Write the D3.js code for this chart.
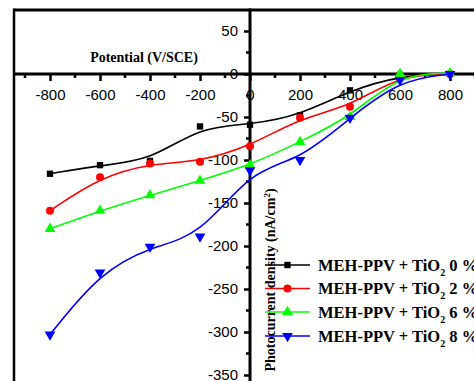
<!DOCTYPE html>
<html>
<head>
<meta charset="utf-8">
<script src="https://cdn.jsdelivr.net/npm/d3@7"></script>
<style>
  body { margin: 0; background: #fff; }
  svg { display: block; }
</style>
</head>
<body>
<svg id="chart"></svg>
<script>
const width = 474, height = 381;

// data
const potential = [-800, -600, -400, -200, 0, 200, 400, 600, 800];
const tio2_0 = [-116, -106, -101, -61, -59, -48, -19, -2, 0];
const tio2_2 = [-159, -120, -104, -102, -84, -51, -38, -1, 0];
const tio2_6 = [-180, -159, -141, -124, -106, -79, -50, 0, 1];
const tio2_8 = [-303, -231, -201, -189, -112, -100, -51, -7, 0];
const seriesNames = ["0 %", "2 %", "6 %", "8 %"];
const xTicks = [-800, -600, -400, -200, 0, 200, 400, 600, 800];
const yTicks = [-350, -300, -250, -200, -150, -100, -50, 0, 50];

const series = [
    {name: seriesNames[0], values: tio2_0, color: "#000000", sym: d3.symbolSquare, size: 40, rot: 0},
    {name: seriesNames[1], values: tio2_2, color: "#ff0000", sym: d3.symbolCircle, size: 50, rot: 0},
    {name: seriesNames[2], values: tio2_6, color: "#00ff00", sym: d3.symbolTriangle, size: 50, rot: 0},
    {name: seriesNames[3], values: tio2_8, color: "#0000ff", sym: d3.symbolTriangle, size: 50, rot: 180}
];

const svg = d3.select("#chart")
    .attr("width", width)
    .attr("height", height);

const x = d3.scaleLinear().domain([-950, 950]).range([12.5, 487.5]);
const y = d3.scaleLinear().domain([75, -360]).range([9.5, 383.6]);

const tickFont = "Arial, 'Liberation Sans', sans-serif";
const titleFont = "'Times New Roman', 'Liberation Serif', serif";

// frame (top and left)
svg.append("line")
    .attr("x1", 14).attr("x2", width)
    .attr("y1", 10).attr("y2", 10)
    .attr("stroke", "#000").attr("stroke-width", 3);
svg.append("line")
    .attr("x1", 14).attr("x2", 14)
    .attr("y1", 8.5).attr("y2", height)
    .attr("stroke", "#000").attr("stroke-width", 2.5);

// minor ticks
const x0 = x(0), y0 = y(0);
svg.append("g").selectAll("line")
    .data(d3.range(-900, 901, 200))
    .join("line")
    .attr("x1", d => x(d)).attr("x2", d => x(d))
    .attr("y1", y0).attr("y2", y0 + 4)
    .attr("stroke", "#000").attr("stroke-width", 2.5);
svg.append("g").selectAll("line")
    .data(d3.range(-325, 75, 50))
    .join("line")
    .attr("x1", x0 - 4).attr("x2", x0)
    .attr("y1", d => y(d)).attr("y2", d => y(d))
    .attr("stroke", "#000").attr("stroke-width", 2.5);

// x axis through y = 0
const xAxis_g = svg.append("g")
    .attr("transform", `translate(0, ${y0})`)
    .call(d3.axisBottom(x).tickValues(xTicks).tickFormat(d => String(d))
        .tickSize(7).tickSizeOuter(0).tickPadding(8));
xAxis_g.select(".domain").remove();
xAxis_g.selectAll(".tick line").attr("stroke-width", 2.5);
xAxis_g.selectAll("text").attr("font-family", tickFont).attr("font-size", 15).attr("fill", "#000");
svg.append("line")
    .attr("x1", 14).attr("x2", width)
    .attr("y1", y0).attr("y2", y0)
    .attr("stroke", "#000").attr("stroke-width", 3);

// y axis through x = 0
const yAxis_g = svg.append("g")
    .attr("transform", `translate(${x0}, 0)`)
    .call(d3.axisLeft(y).tickValues(yTicks).tickFormat(d => String(d))
        .tickSize(6).tickSizeOuter(0).tickPadding(6));
yAxis_g.select(".domain").remove();
yAxis_g.selectAll(".tick line").attr("stroke-width", 2.5);
yAxis_g.selectAll("text").attr("font-family", tickFont).attr("font-size", 15).attr("fill", "#000");
svg.append("line")
    .attr("x1", x0).attr("x2", x0)
    .attr("y1", 8.5).attr("y2", height)
    .attr("stroke", "#000").attr("stroke-width", 3);

// axis titles
svg.append("text")
    .attr("x", 144).attr("y", 62)
    .attr("text-anchor", "middle")
    .attr("font-family", titleFont)
    .attr("font-weight", "bold")
    .attr("font-size", 14)
    .text("Potential (V/SCE)");

const yTitle = svg.append("text")
    .attr("transform", "translate(275, 280) rotate(-90)")
    .attr("text-anchor", "middle")
    .attr("font-family", titleFont)
    .attr("font-weight", "bold")
    .attr("font-size", 14);
yTitle.append("tspan").text("Photocurrent density (nA/cm");
yTitle.append("tspan").attr("dy", -5).attr("font-size", 9).text("2");
yTitle.append("tspan").attr("dy", 5).text(")");

// curves
const line = d3.line()
    .curve(d3.curveBasis)
    .x((d, i) => x(potential[i]))
    .y(d => y(d));

const plot_g = svg.append("g");
series.forEach(s => {
    plot_g.append("path")
        .attr("d", line(s.values))
        .attr("fill", "none")
        .attr("stroke", s.color)
        .attr("stroke-width", 1.6);
    plot_g.append("g").selectAll("path")
        .data(s.values)
        .join("path")
        .attr("transform", (d, i) => `translate(${x(potential[i])}, ${y(d)}) rotate(${s.rot})`)
        .attr("d", d3.symbol().type(s.sym).size(s.size))
        .attr("fill", s.color);
});

// legend
const legend_g = svg.append("g");
const legendY = [265, 288.5, 312, 336];
series.forEach((s, i) => {
    const g = legend_g.append("g").attr("transform", `translate(0, ${legendY[i]})`);
    g.append("line")
        .attr("x1", 265).attr("x2", 310)
        .attr("stroke", s.color).attr("stroke-width", 1.6);
    g.append("path")
        .attr("transform", `translate(287.5, 0) rotate(${s.rot})`)
        .attr("d", d3.symbol().type(s.sym).size(s.size))
        .attr("fill", s.color);
    const t = g.append("text")
        .attr("x", 318).attr("y", 5.5)
        .attr("font-family", titleFont)
        .attr("font-weight", "bold")
        .attr("font-size", 16.5);
    t.append("tspan").text("MEH-PPV + TiO");
    t.append("tspan").attr("dy", 5).attr("font-size", 10).text("2");
    t.append("tspan").attr("dy", -5).text(" " + s.name);
});
</script>
</body>
</html>
